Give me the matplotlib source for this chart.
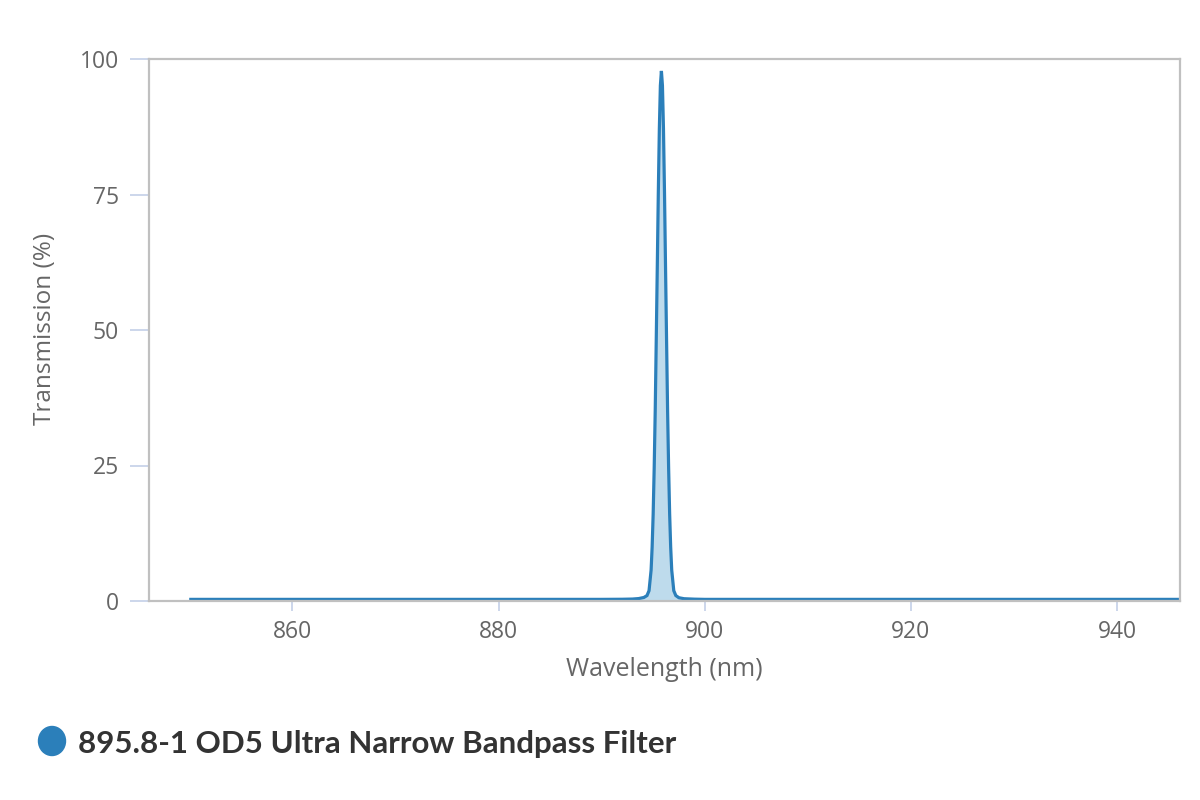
import matplotlib
matplotlib.use("Agg")
import matplotlib.pyplot as plt
from matplotlib.patches import Ellipse

wavelength = [850.0, 880.0, 890.0, 892.0, 893.0, 893.6, 894.1, 894.4, 894.6, 894.8,
              894.9, 895.0, 895.1, 895.2, 895.3, 895.4, 895.5, 895.6, 895.7, 895.8,
              895.9, 896.0, 896.1, 896.2, 896.3, 896.4, 896.5, 896.6, 896.7, 896.8,
              897.0, 897.2, 897.5, 898.0, 899.0, 900.0, 920.0, 946.0]
transmission = [0.3, 0.3, 0.3, 0.32, 0.36, 0.45, 0.65, 1.0, 1.9, 5.7,
                9.9, 16.0, 24.5, 35.1, 48.2, 61.6, 75.3, 87.1, 95.1, 97.8,
                95.1, 87.1, 75.3, 61.6, 48.2, 35.1, 24.5, 16.0, 9.9, 5.7,
                1.9, 1.0, 0.6, 0.42, 0.34, 0.3, 0.3, 0.3]
x_ticks = [860, 880, 900, 920, 940]
y_ticks = [0, 25, 50, 75, 100]
series_name = "895.8-1 OD5 Ultra Narrow Bandpass Filter"

line_color = "#2b7fba"
fill_color = "#a8d0e6"
text_color = "#666666"

plt.rcParams["font.family"] = ["Open Sans", "DejaVu Sans"]

fig = plt.figure(figsize=(12, 8), dpi=100)
ax = fig.add_axes([149/1200, 1-601/800, (1180-149)/1200, (601-59)/800])

ax.fill_between(wavelength, transmission, 0, color=fill_color, alpha=0.75, linewidth=0)
ax.plot(wavelength, transmission, color=line_color, linewidth=2.3,
        solid_joinstyle="miter", solid_capstyle="butt")

ax.set_xlim(846.1, 946.1)
ax.set_ylim(0, 100)
ax.set_xticks(x_ticks)
ax.set_yticks(y_ticks)

for side in ["left", "top", "right", "bottom"]:
    ax.spines[side].set_color("#c0c0c0")
    ax.spines[side].set_linewidth(1.6)

ax.tick_params(axis="x", colors="#ccd6eb", length=7.5, width=1.4, labelcolor=text_color,
               labelsize=16.5, pad=6)
ax.tick_params(axis="y", colors="#ccd6eb", length=13.7, width=1.4, labelcolor=text_color,
               labelsize=16.5, pad=8)

fig.text(664.5/1200, 1-670/800, "Wavelength (nm)", color=text_color, fontsize=18,
         ha="center", va="center")
fig.text(45/1200, 1-329/800, "Transmission (%)", color=text_color, fontsize=17.5,
         ha="center", va="center", rotation=90)

fig.text(78/1200, 1-744/800, series_name, fontsize=22.5, fontweight="bold", color="#333333",
         va="center", ha="left", family=["Lato", "DejaVu Sans"])
fig.patches.append(Ellipse((52/1200, 1-741/800), 27/1200, 29/800,
                           transform=fig.transFigure, color=line_color))

fig.savefig("out.png", dpi=100)
